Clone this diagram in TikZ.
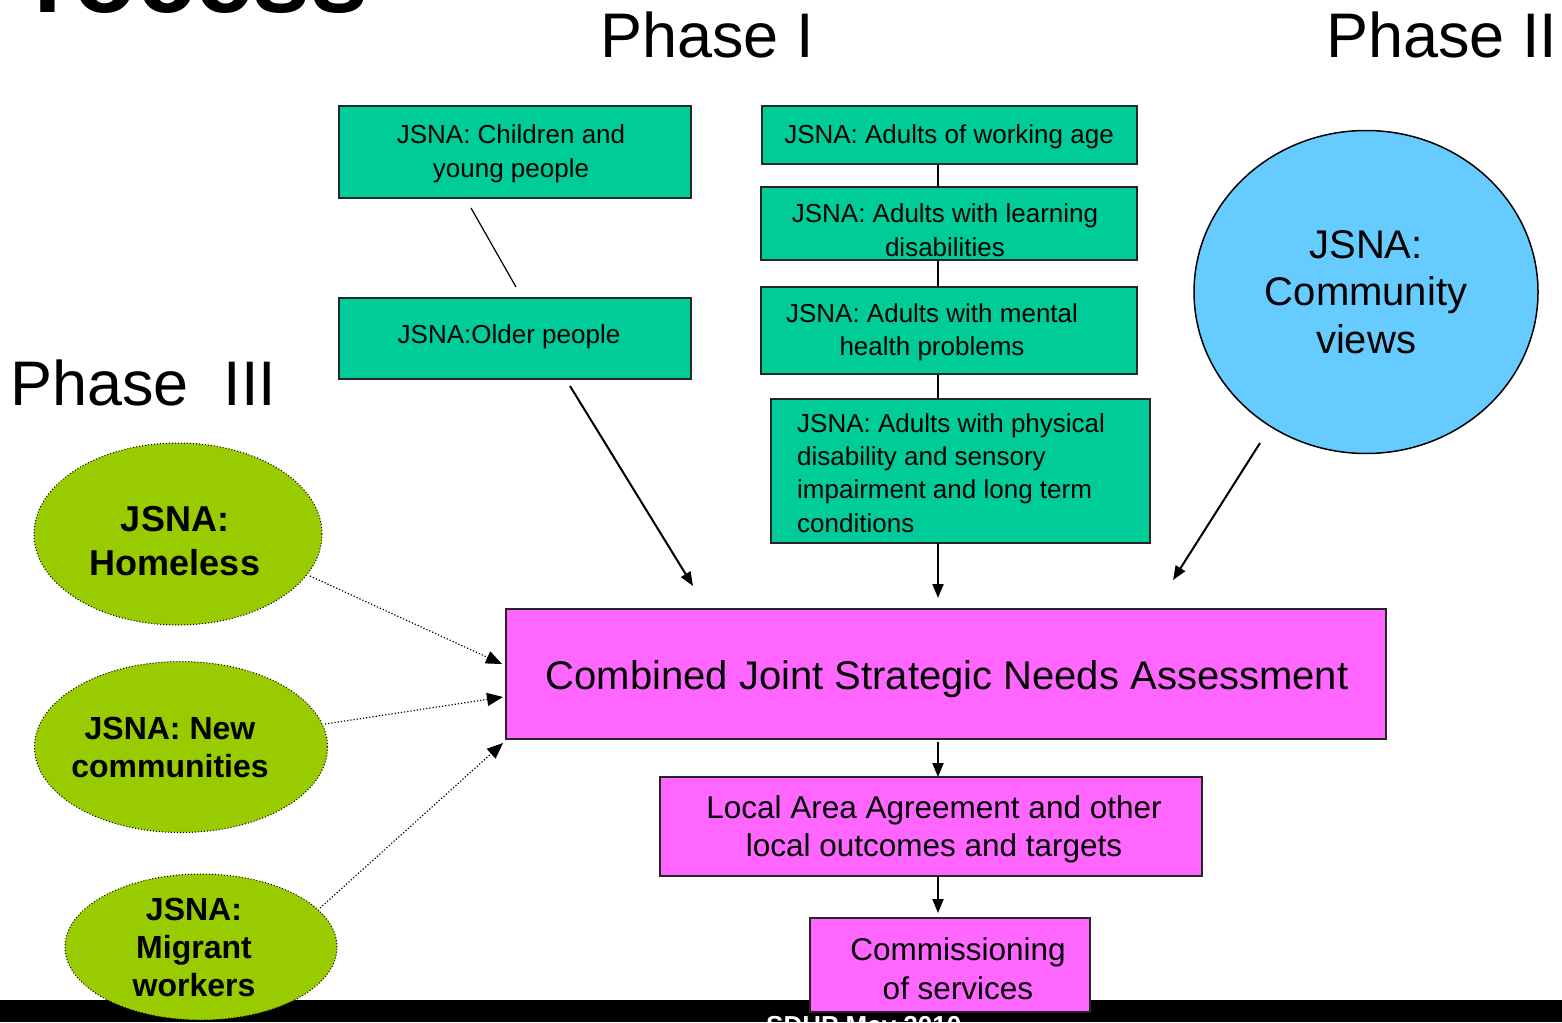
\documentclass[tikz,border=0pt]{standalone}
\usepackage{fontspec}
\setmainfont{Liberation Sans}
\usetikzlibrary{arrows.meta,shapes.geometric}
\definecolor{teal2}{HTML}{00CC99}
\definecolor{mag}{HTML}{FF66FF}
\definecolor{sky}{HTML}{66CCFF}
\definecolor{lime}{HTML}{99CC00}
\begin{document}
\begin{tikzpicture}[x=1pt,y=-1pt,
  gbox/.style={draw=black!85,line width=1.5pt,fill=teal2,inner sep=0pt,align=center,font=\fontsize{26}{34}\selectfont},
  gtxt/.style={inner sep=0pt,align=center,font=\fontsize{26}{34}\selectfont},
  mbox/.style={draw=black!85,line width=1.5pt,fill=mag,inner sep=0pt,align=center},
  gell/.style={ellipse,draw=black,dotted,line width=1pt,fill=lime,inner sep=0pt,align=center},
  etxt/.style={inner sep=0pt,align=center,font=\bfseries\fontsize{32}{38}\selectfont},
  conn/.style={line width=1.5pt},
  arr/.style={line width=2pt,-{Triangle[length=14pt,width=11pt]}},
  darr/.style={line width=1.2pt,dotted,-{Triangle[length=16pt,width=13pt]}},
  phase/.style={anchor=base west,inner sep=0pt,font=\fontsize{63}{70}\selectfont}
]
\useasboundingbox (0,0) rectangle (1562,1022);
\clip (0,0) rectangle (1562,1022);
\fill[white] (0,0) rectangle (1562,1022);

% title fragment and phases
\node[anchor=base west,inner sep=0pt,font=\bfseries\fontsize{104}{110}\selectfont] (title) at (33,13) {rocess};
\node[phase] (p1) at (600,58) {Phase I};
\node[phase] (p2) at (1326,58) {Phase II};
\node[phase] (p3) at (10,405) {Phase\ \ III};

% green boxes
\node[gbox,minimum width=352pt,minimum height=92pt] (child) at (515,152) {};
\node[gtxt] (childt) at (511,154) {JSNA: Children and\\young people};
\node[gbox,minimum width=352pt,minimum height=81pt] (older) at (515,338.5) {};
\node[gtxt] (oldert) at (509,337) {JSNA:Older people};

\node[gbox,minimum width=375pt,minimum height=58pt] (work) at (949.5,135) {};
\node[gtxt] (workt) at (949,137) {JSNA: Adults of working age};
\node[gbox,minimum width=376pt,minimum height=73pt] (learn) at (949,223.5) {};
\node[gtxt] (learnt) at (945,230) {JSNA: Adults with learning\\disabilities};
\node[gbox,minimum width=376pt,minimum height=87pt] (mental) at (949,330.5) {};
\node[gtxt,font=\fontsize{26}{33}\selectfont] (mentalt) at (932,332) {JSNA: Adults with mental\\health problems};
\node[gbox,minimum width=379pt,minimum height=144pt] (phys) at (960.5,471) {};
\node[inner sep=0pt,align=left,anchor=west,font=\fontsize{26}{33.3}\selectfont] (physt) at (797,473) {JSNA: Adults with physical\\disability and sensory\\impairment and long term\\conditions};

% community circle
\node[ellipse,draw=black,line width=1.5pt,fill=sky,minimum width=344pt,minimum height=323pt,inner sep=0pt,align=center,font=\fontsize{40}{47.5}\selectfont] (comm) at (1366,292) {JSNA:\\Community\\views};

% magenta boxes
\node[mbox,minimum width=880pt,minimum height=130pt] (comb) at (946,674) {};
\node[inner sep=0pt,font=\fontsize{40}{46}\selectfont] (combt) at (947,679) {Combined Joint Strategic Needs Assessment};
\node[mbox,minimum width=542pt,minimum height=99pt] (laa) at (931,826.5) {};
\node[inner sep=0pt,align=center,font=\fontsize{31.5}{38}\selectfont] (laat) at (934,829) {Local Area Agreement and other\\local outcomes and targets};

% bottom bar
\fill[black] (0,1000) rectangle (1562,1022);
\node[mbox,minimum width=280pt,minimum height=94pt] (cms) at (950,965) {};
\node[inner sep=0pt,align=center,font=\fontsize{31.5}{39}\selectfont] (cmst) at (958,969) {Commissioning\\of services};
\node[anchor=base west,inner sep=0pt,text=white,font=\bfseries\fontsize{26}{30}\selectfont] (foot) at (766,1034) {SDHP May 2010};

% green ellipses
\node[gell,minimum width=288pt,minimum height=182pt] (home) at (178,534) {};
\node[etxt,font=\bfseries\fontsize{36}{44}\selectfont] (homet) at (175,541) {JSNA:\\Homeless};
\node[gell,minimum width=293pt,minimum height=171pt] (newc) at (181,747) {};
\node[etxt] (newct) at (170,747) {JSNA: New\\communities};
\node[gell,minimum width=272pt,minimum height=146pt] (migr) at (201,947) {};
\node[etxt] (migrt) at (194,947) {JSNA:\\Migrant\\workers};

% connectors
\draw[conn] (work.south -| 938,0) -- (learn.north -| 938,0);
\draw[conn] (learn.south -| 938,0) -- (mental.north -| 938,0);
\draw[conn] (mental.south -| 938,0) -- (phys.north -| 938,0);
\coordinate (c1) at (471,208);
\coordinate (c2) at (516,287);
\draw[line width=1.2pt] (c1) -- (c2);
\coordinate (o1) at (570,386);
\coordinate (o2) at (693,586);
\draw[arr] (o1) -- (o2);
\coordinate (ph1) at (938,543);
\coordinate (ph2) at (938,598);
\draw[arr] (ph1) -- (ph2);
\coordinate (cv1) at (1260,443);
\coordinate (cv2) at (1173,580);
\draw[arr] (cv1) -- (cv2);
\coordinate (cb1) at (938,742);
\coordinate (cb2) at (938,777);
\draw[arr] (cb1) -- (cb2);
\coordinate (la1) at (938,876);
\coordinate (la2) at (938,913);
\draw[arr] (la1) -- (la2);
\coordinate (h1) at (310,576);
\coordinate (h2) at (502,664);
\draw[darr] (h1) -- (h2);
\coordinate (n1) at (325,724);
\coordinate (n2) at (503,697);
\draw[darr] (n1) -- (n2);
\coordinate (m1) at (320,908);
\coordinate (m2) at (503,743);
\draw[darr] (m1) -- (m2);
\end{tikzpicture}
\end{document}
